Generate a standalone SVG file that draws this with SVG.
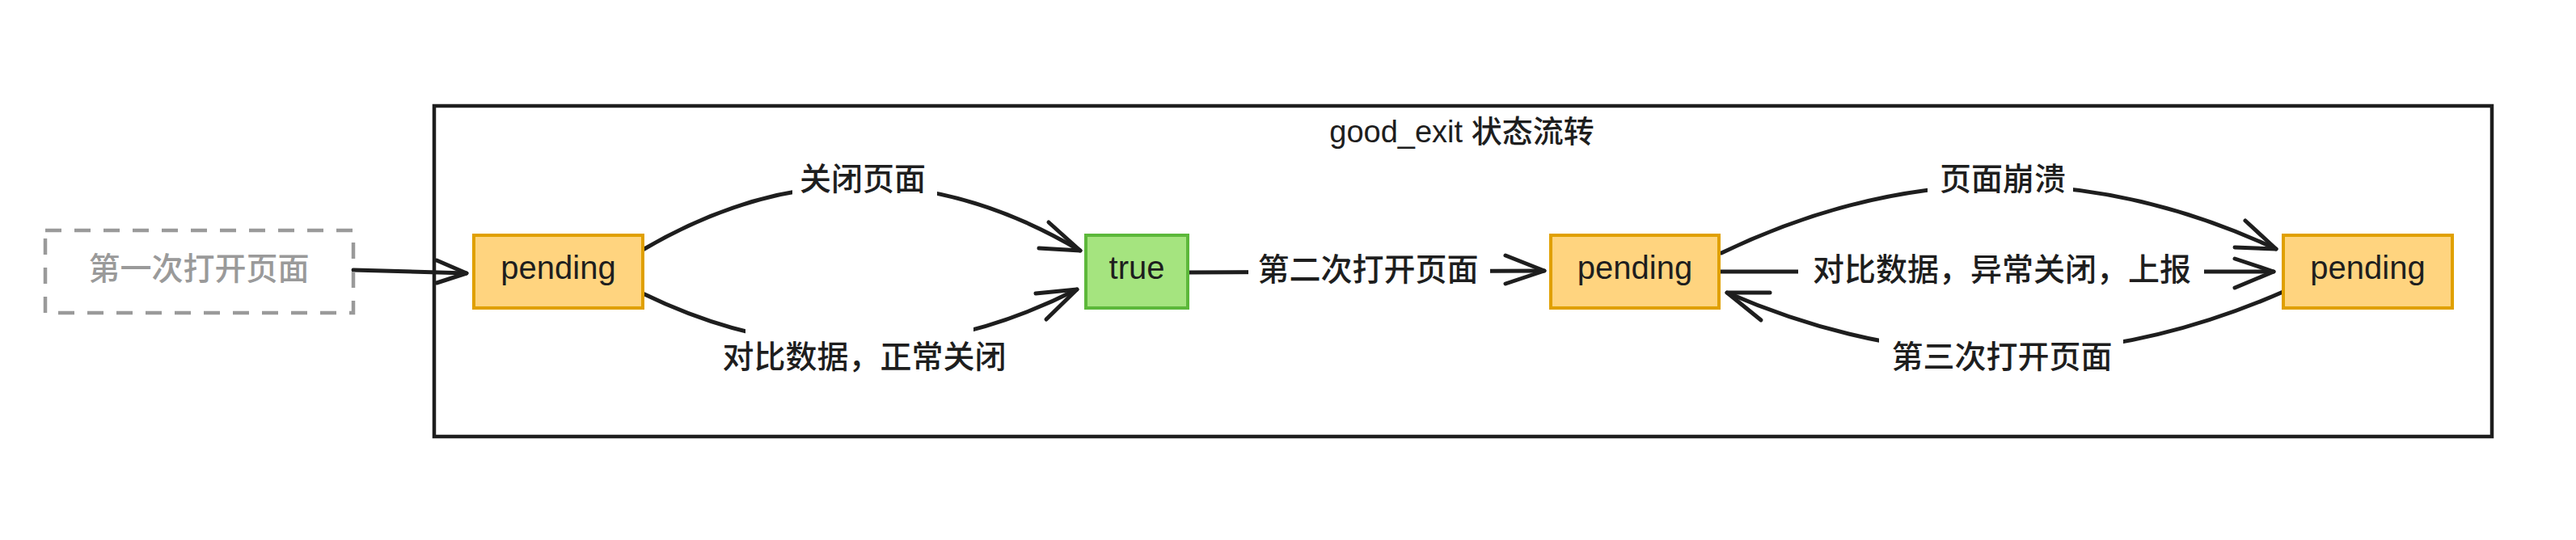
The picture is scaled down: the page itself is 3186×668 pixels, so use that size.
<svg xmlns="http://www.w3.org/2000/svg" width="3186" height="668" viewBox="0 0 3186 668">
<style>
.line{fill:none;stroke:#1e1e1e;stroke-width:5;stroke-linecap:round;stroke-linejoin:round}
.head{fill:none;stroke:#1e1e1e;stroke-width:5;stroke-linecap:round;stroke-linejoin:round}
.mask{fill:#ffffff;stroke:none}
.lbl{font-family:"Noto Sans CJK SC","Liberation Sans",sans-serif;font-size:39px;font-weight:500;fill:#1e1e1e;text-anchor:middle}
.latin{font-family:"Liberation Sans","Noto Sans CJK SC",sans-serif;font-size:40px;fill:#1e1e1e;text-anchor:middle}
.pend{fill:#ffd47f;stroke:#e0a000;stroke-width:4}
.ok{fill:#a5e47f;stroke:#5cb83a;stroke-width:4}
</style>
<rect x="0" y="0" width="3186" height="668" fill="#ffffff"/>
<g id="frame">
<rect x="537" y="131" width="2545" height="409" fill="none" stroke="#1e1e1e" stroke-width="4.5"/>
<text x="1808" y="176" class="latin" style="font-size:38px">good_exit <tspan style="font-family:'Noto Sans CJK SC',sans-serif;font-weight:500">状态流转</tspan></text>
</g>
<g id="connectors">
<path class="line" d="M437,334 L577,338"/>
<path class="head" d="M540,322 L577,338 L540,350"/>
<path class="line" d="M795,309 Q1066,150 1336,310"/>
<path class="head" d="M1297,275 L1336,310 L1285,307"/>
<path class="line" d="M795,363 Q1064,494 1332,358"/>
<path class="head" d="M1281,363 L1332,358 L1294,395"/>
<path class="line" d="M1469,337 L1910,335"/>
<path class="head" d="M1862,316 L1910,335 L1862,351"/>
<path class="line" d="M2126,336 L2812,336"/>
<path class="head" d="M2764,320 L2812,336 L2764,356"/>
<path class="line" d="M2129,313 Q2472,148 2815,308"/>
<path class="head" d="M2777,273 L2815,308 L2764,306"/>
<path class="line" d="M2826,360 Q2481,512 2136,362"/>
<path class="head" d="M2189,362 L2136,362 L2178,396"/>
<g id="label-close">
<rect class="mask" x="980" y="198" width="179" height="50"/>
<text class="lbl" x="1067" y="235">关闭页面</text>
</g>
<g id="label-normal">
<rect class="mask" x="922" y="398" width="282" height="72"/>
<text class="lbl" x="1069" y="455">对比数据，正常关闭</text>
</g>
<g id="label-second">
<rect class="mask" x="1544" y="310" width="299" height="50"/>
<text class="lbl" x="1692" y="347">第二次打开页面</text>
</g>
<g id="label-abnormal">
<rect class="mask" x="2224" y="310" width="502" height="50"/>
<text class="lbl" x="2476" y="347">对比数据，异常关闭，上报</text>
</g>
<g id="label-crash">
<rect class="mask" x="2384" y="195" width="180" height="55"/>
<text class="lbl" x="2477" y="235">页面崩溃</text>
</g>
<g id="label-third">
<rect class="mask" x="2324" y="398" width="302" height="72"/>
<text class="lbl" x="2476" y="455">第三次打开页面</text>
</g>
</g>
<g id="node-first-open">
<rect x="56" y="285" width="381" height="102" fill="none" stroke="#9a9a9a" stroke-width="4.5" stroke-dasharray="20 16"/>
<text class="lbl" x="246" y="346" style="fill:#9a9a9a">第一次打开页面</text>
</g>
<g id="node-pending-1">
<rect class="pend" x="586" y="291" width="209" height="90"/>
<text class="latin" x="690.5" y="345">pending</text>
</g>
<g id="node-true">
<rect class="ok" x="1343" y="291" width="126" height="90"/>
<text class="latin" x="1406" y="345">true</text>
</g>
<g id="node-pending-2">
<rect class="pend" x="1918" y="291" width="208" height="90"/>
<text class="latin" x="2022" y="345">pending</text>
</g>
<g id="node-pending-3">
<rect class="pend" x="2824" y="291" width="209" height="90"/>
<text class="latin" x="2928.5" y="345">pending</text>
</g>
</svg>
